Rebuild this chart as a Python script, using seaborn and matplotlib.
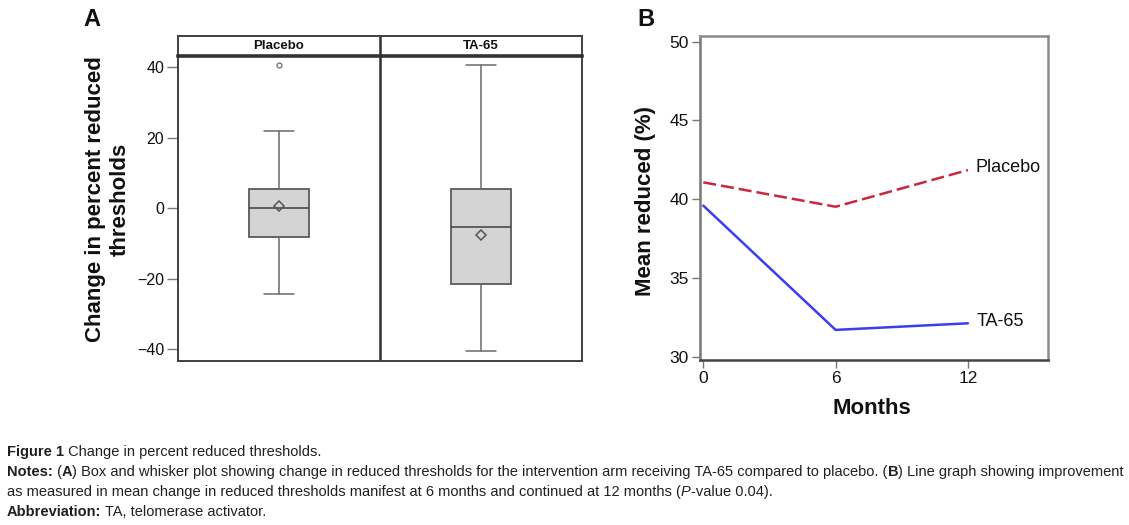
import numpy as np
import pandas as pd
import matplotlib
matplotlib.use('Agg')
import matplotlib.pyplot as plt
import seaborn as sns

# Panel A: box summary per arm
groups = ['Placebo', 'TA-65']
q1 = [-8.1, -21.5]
medians = [0.0, -5.4]
q3 = [5.5, 5.5]
whisk_lo = [-24.3, -40.5]
whisk_hi = [21.8, 40.7]
means = [0.6, -7.5]
outliers = [[40.7], []]
yticks_a = [-40, -20, 0, 20, 40]

# Panel B: mean reduced (%) over time
months = [0, 6, 12]
placebo_mean = [41.07, 39.52, 41.85]
ta65_mean = [39.59, 31.70, 32.12]
yticks_b = [30, 35, 40, 45, 50]

sns.set_theme(style='white')
plt.rcParams['font.family'] = ['Liberation Sans', 'DejaVu Sans']

fig = plt.figure(figsize=(11.29, 5.25), dpi=100)
W, H = 1129, 525


def fbox(x0, y0, x1, y1):
    # pixel box (top-left origin) -> figure rect
    return [x0 / W, 1 - y1 / H, (x1 - x0) / W, (y1 - y0) / H]


# ---------- Panel A ----------
frame_col = '#404040'
ax_a = fig.add_axes(fbox(178, 56, 582, 361))
stats = []
for i, g in enumerate(groups):
    stats.append(dict(label=g, q1=q1[i], med=medians[i], q3=q3[i],
                      whislo=whisk_lo[i], whishi=whisk_hi[i],
                      mean=means[i], fliers=outliers[i]))
ax_a.bxp(stats, positions=[0, 1], widths=0.294, capwidths=0.144,
         showmeans=True, patch_artist=True,
         boxprops=dict(facecolor='#d4d4d4', edgecolor='#5a5a5a', linewidth=1.3),
         medianprops=dict(color='#4a4a4a', linewidth=1.2),
         whiskerprops=dict(color='#6a6a6a', linewidth=1.1),
         capprops=dict(color='#6a6a6a', linewidth=1.1),
         meanprops=dict(marker='D', markersize=5.5, markerfacecolor='none',
                        markeredgecolor='#555555', markeredgewidth=1.1),
         flierprops=dict(marker='o', markersize=3.5, markerfacecolor='none',
                         markeredgecolor='#777777', markeredgewidth=1.0))
ax_a.set_xlim(-0.5, 1.5)
ax_a.set_ylim(-43.4, 43.2)
ax_a.axvline(0.5, color='#303030', lw=1.8)
ax_a.set_xticks([])
ax_a.set_yticks(yticks_a)
ax_a.set_yticklabels([str(v).replace('-', '\u2212') for v in yticks_a])
ax_a.tick_params(axis='y', left=True, length=8, width=1, color='#777777',
                 labelsize=11.5, pad=2, labelcolor='#111111')
for sp in ax_a.spines.values():
    sp.set_color(frame_col)
    sp.set_linewidth(1.4)

# facet header strip
ax_h = fig.add_axes(fbox(178, 36, 582, 56))
ax_h.set_xlim(-0.5, 1.5)
ax_h.set_ylim(0, 1)
ax_h.set_xticks([])
ax_h.set_yticks([])
ax_h.axvline(0.5, color='#303030', lw=1.8)
for sp in ax_h.spines.values():
    sp.set_color(frame_col)
    sp.set_linewidth(1.4)
ax_h.spines['bottom'].set_linewidth(2.6)
ax_h.spines['bottom'].set_color('#333333')
for i, g in enumerate(groups):
    ax_h.text(i, 0.48, g, ha='center', va='center', fontsize=9.5,
              fontweight='bold', color='#111111')

fig.text(108 / W, 1 - 199 / H, 'Change in percent reduced\nthresholds',
         rotation=90, ha='center', va='center', multialignment='center',
         fontsize=16, fontweight='bold', linespacing=1.25, color='#111111')
fig.text(83 / W, 1 - 8 / H, 'A', ha='left', va='top', fontsize=17,
         fontweight='bold', color='#111111')

# ---------- Panel B ----------
ax_b = fig.add_axes(fbox(700, 36, 1048, 360))
df = pd.DataFrame({
    'Months': months * 2,
    'Mean': placebo_mean + ta65_mean,
    'Group': ['Placebo'] * len(months) + ['TA-65'] * len(months),
})
sns.lineplot(data=df, x='Months', y='Mean', hue='Group', style='Group',
             palette={'Placebo': '#c8283c', 'TA-65': '#3c3cf0'},
             dashes={'Placebo': (5.2, 2.0), 'TA-65': ''},
             linewidth=1.8, legend=False, ax=ax_b)
ax_b.text(months[-1] + 0.33, placebo_mean[-1] + 0.15, 'Placebo',
          ha='left', va='center', fontsize=13, color='#111111')
ax_b.text(months[-1] + 0.4, ta65_mean[-1] + 0.1, 'TA-65',
          ha='left', va='center', fontsize=13, color='#111111')
ax_b.set_xlim(-0.15, 15.63)
ax_b.set_ylim(29.79, 50.36)
ax_b.set_xticks(months)
ax_b.set_yticks(yticks_b)
ax_b.tick_params(axis='both', length=6, width=1, color='#777777',
                 labelsize=12.5, labelcolor='#111111', pad=2)
ax_b.tick_params(axis='x', bottom=True)
ax_b.tick_params(axis='y', left=True)
for sp in ax_b.spines.values():
    sp.set_color('#8a8a8a')
    sp.set_linewidth(1.8)
ax_b.spines['bottom'].set_color('#444444')
ax_b.spines['left'].set_color('#777777')
ax_b.set_xlabel('')
ax_b.set_ylabel('')
fig.text(872 / W, 1 - 408 / H, 'Months', ha='center', va='center',
         fontsize=16, fontweight='bold', color='#111111')
fig.text(645 / W, 1 - 201 / H, 'Mean reduced (%)', rotation=90,
         ha='center', va='center', fontsize=16, fontweight='bold',
         color='#111111')
fig.text(637 / W, 1 - 8 / H, 'B', ha='left', va='top', fontsize=17,
         fontweight='bold', color='#111111')

# ---------- caption ----------
renderer = fig.canvas.get_renderer()
cap_size = 10.5
cap_col = '#231f20'


def write_runs(x_px, y_px, parts):
    x = x_px / W
    for s, weight, style in parts:
        t = fig.text(x, 1 - y_px / H, s, ha='left', va='baseline',
                     fontsize=cap_size, fontweight=weight, fontstyle=style,
                     color=cap_col)
        x += t.get_window_extent(renderer).width / fig.bbox.width


write_runs(7, 456, [('Figure 1', 'bold', 'normal'),
                    (' Change in percent reduced thresholds.', 'normal', 'normal')])
write_runs(7, 476, [('Notes:', 'bold', 'normal'),
                    (' (', 'normal', 'normal'), ('A', 'bold', 'normal'),
                    (') Box and whisker plot showing change in reduced thresholds for the '
                     'intervention arm receiving TA-65 compared to placebo. (', 'normal', 'normal'),
                    ('B', 'bold', 'normal'),
                    (') Line graph showing improvement', 'normal', 'normal')])
write_runs(7, 496, [('as measured in mean change in reduced thresholds manifest at 6 months '
                     'and continued at 12 months (', 'normal', 'normal'),
                    ('P', 'normal', 'italic'),
                    ('-value 0.04).', 'normal', 'normal')])
write_runs(7, 516, [('Abbreviation:', 'bold', 'normal'),
                    (' TA, telomerase activator.', 'normal', 'normal')])

fig.savefig('out.png', dpi=100)
